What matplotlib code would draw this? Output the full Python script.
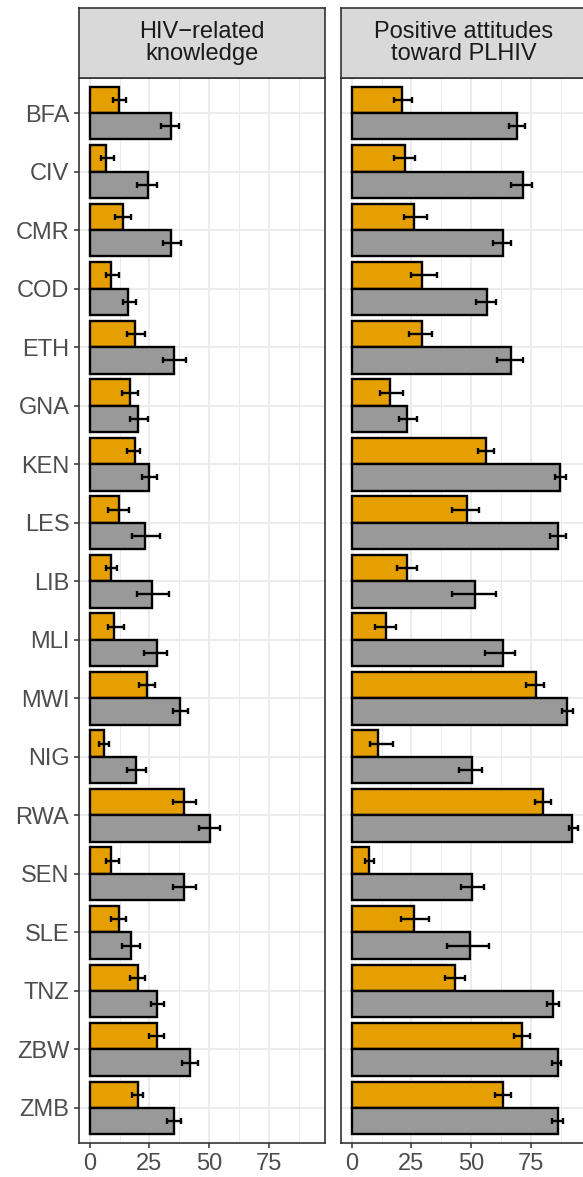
import numpy as np
import matplotlib
matplotlib.use("Agg")
import matplotlib.pyplot as plt

plt.rcParams['font.family'] = ['Liberation Sans', 'DejaVu Sans']

countries = ["BFA", "CIV", "CMR", "COD", "ETH", "GNA", "KEN", "LES", "LIB",
             "MLI", "MWI", "NIG", "RWA", "SEN", "SLE", "TNZ", "ZBW", "ZMB"]
panels = ["HIV\u2212related\nknowledge", "Positive attitudes\ntoward PLHIV"]

# HIV-related knowledge: orange (top) and gray (bottom) groups
know_orange = [12.1, 6.9, 14.0, 9.0, 19.0, 16.9, 19.0, 12.1, 9.0,
               10.0, 24.0, 6.0, 39.2, 9.0, 12.1, 20.1, 28.1, 20.1]
know_orange_lo = [9.7, 4.7, 10.7, 6.8, 15.6, 13.6, 15.6, 7.8, 6.8,
                  7.8, 20.7, 3.9, 34.6, 6.7, 8.8, 16.7, 24.6, 17.5]
know_orange_hi = [15.3, 10.3, 17.4, 12.4, 23.3, 20.3, 21.1, 16.4, 11.3,
                  14.2, 27.2, 8.2, 44.2, 12.2, 15.3, 23.3, 31.2, 22.2]
know_gray = [34.0, 24.2, 34.0, 16.1, 35.1, 20.0, 25.0, 23.2, 26.1,
             28.1, 37.9, 19.2, 50.1, 39.2, 17.1, 28.1, 42.1, 35.1]
know_gray_lo = [29.7, 19.7, 30.6, 13.8, 30.6, 16.7, 21.7, 17.5, 19.7,
                22.6, 34.6, 15.7, 45.6, 34.6, 13.6, 25.6, 38.6, 32.5]
know_gray_hi = [37.2, 28.3, 38.3, 19.3, 40.3, 24.2, 28.3, 29.2, 33.1,
                32.2, 41.1, 23.7, 54.2, 44.2, 21.1, 31.1, 45.1, 38.2]

# Positive attitudes toward PLHIV
att_orange = [21.2, 22.1, 26.1, 29.2, 29.2, 16.1, 56.1, 48.2, 23.3,
              14.2, 77.1, 11.2, 80.0, 7.4, 26.1, 43.2, 71.1, 63.2]
att_orange_lo = [17.8, 17.8, 21.8, 24.9, 23.9, 11.8, 52.8, 41.8, 18.9,
                 9.9, 72.8, 7.9, 76.5, 5.8, 20.7, 38.8, 67.8, 59.7]
att_orange_hi = [25.4, 26.5, 31.5, 35.6, 33.5, 21.5, 59.4, 53.3, 27.5,
                 18.5, 80.3, 17.4, 83.3, 9.4, 32.4, 47.4, 74.3, 66.3]
att_gray = [69.2, 71.3, 63.2, 56.3, 66.3, 23.2, 87.1, 86.1, 51.3,
            63.2, 90.0, 50.1, 91.9, 50.1, 49.2, 83.9, 86.1, 86.1]
att_gray_lo = [65.7, 66.7, 58.8, 51.8, 60.7, 19.9, 84.7, 82.8, 41.8,
               55.8, 87.8, 44.9, 90.7, 45.7, 39.9, 81.7, 83.6, 83.6]
att_gray_hi = [72.4, 75.4, 66.4, 60.3, 71.4, 27.5, 89.3, 89.3, 60.3,
               68.3, 92.2, 54.3, 94.3, 55.4, 57.2, 86.4, 87.2, 88.1]

x_ticks = [0, 25, 50, 75]

W, H = 583, 1177
fig = plt.figure(figsize=(W / 100, H / 100), dpi=100)

panel_data = [
    (know_orange, know_orange_lo, know_orange_hi, know_gray, know_gray_lo, know_gray_hi),
    (att_orange, att_orange_lo, att_orange_hi, att_gray, att_gray_lo, att_gray_hi),
]
lefts = [79, 341]
pw = 246
top, bottom, strip_top = 78, 1143, 8
y = np.arange(len(countries))
bh = 0.45

for i, (left, data) in enumerate(zip(lefts, panel_data)):
    o, olo, ohi, g, glo, ghi = [np.array(d) for d in data]
    ax = fig.add_axes([left / W, (H - bottom) / H, pw / W, (bottom - top) / H])
    ax.set_facecolor("white")
    ax.set_xlim(-4.4, 98.2)
    ax.set_ylim(len(countries) - 1 + 0.6, -0.6)
    ax.set_xticks(x_ticks)
    ax.set_xticks([12.5, 37.5, 62.5, 87.5], minor=True)
    ax.set_yticks(y)
    ax.set_axisbelow(True)
    ax.grid(which="major", color="#EBEBEB", lw=1.3)
    ax.grid(which="minor", axis="x", color="#EBEBEB", lw=0.7)
    ax.tick_params(which="minor", length=0)
    ax.tick_params(which="major", length=3.5, width=1.1, color="#333333",
                   labelcolor="#4D4D4D", labelsize=17, pad=3.5)
    if i == 0:
        ax.set_yticklabels(countries)
    else:
        ax.tick_params(axis="y", length=0, labelleft=False)
    for s in ax.spines.values():
        s.set_color("#333333")
        s.set_linewidth(1.2)

    ax.barh(y - bh / 2, o, height=bh, color="#E69F00", edgecolor="black", linewidth=1.7, zorder=2)
    ax.barh(y + bh / 2, g, height=bh, color="#999999", edgecolor="black", linewidth=1.7, zorder=2)
    ax.errorbar(o, y - bh / 2, xerr=[o - olo, ohi - o], fmt="none", ecolor="black",
                elinewidth=1.7, capsize=2.3, capthick=1.7, zorder=3)
    ax.errorbar(g, y + bh / 2, xerr=[g - glo, ghi - g], fmt="none", ecolor="black",
                elinewidth=1.7, capsize=2.3, capthick=1.7, zorder=3)

    sax = fig.add_axes([left / W, (H - top) / H, pw / W, (top - strip_top) / H])
    sax.set_facecolor("#D9D9D9")
    sax.set_xticks([])
    sax.set_yticks([])
    for s in sax.spines.values():
        s.set_color("#333333")
        s.set_linewidth(1.2)
    sax.text(0.5, 0.5, panels[i], transform=sax.transAxes,
             ha="center", va="center", fontsize=17, color="#1A1A1A", linespacing=1.05)

fig.savefig("out.png", dpi=100)
